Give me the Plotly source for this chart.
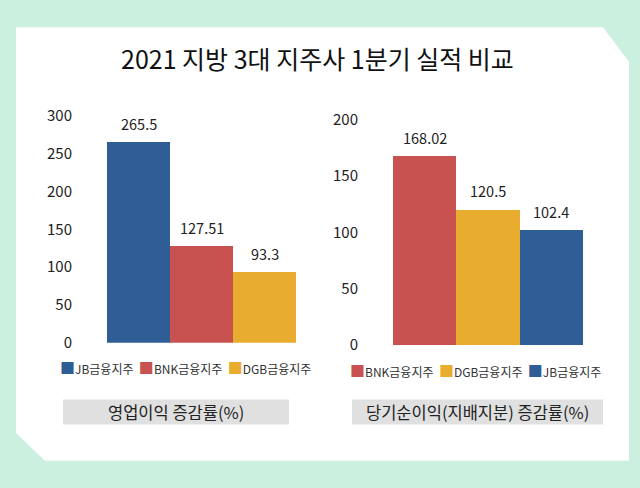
import plotly.graph_objects as go

W, H = 640, 488
FONT = "Noto Sans CJK KR"

title_text = "2021 지방 3대 지주사 1분기 실적 비교"

# Left chart: 영업이익 증감률(%)
left_label = "영업이익 증감률(%)"
left_names = ["JB금융지주", "BNK금융지주", "DGB금융지주"]
left_values = [265.5, 127.51, 93.3]
left_labels = ["265.5", "127.51", "93.3"]

# Right chart: 당기순이익(지배지분) 증감률(%)
right_label = "당기순이익(지배지분) 증감률(%)"
right_names = ["BNK금융지주", "DGB금융지주", "JB금융지주"]
right_values = [168.02, 120.5, 102.4]
right_labels = ["168.02", "120.5", "102.4"]

left_ticks = [0, 50, 100, 150, 200, 250, 300]
right_ticks = [0, 50, 100, 150, 200]

colors = {"JB금융지주": "#2F5E96", "BNK금융지주": "#C8524F", "DGB금융지주": "#E8AC2E"}


def px(x):
    return x / W


def py(y):
    return (H - y) / H


fig = go.Figure()

for name, val in zip(left_names, left_values):
    fig.add_trace(go.Bar(x=[name], y=[val], name=name, marker=dict(color=colors[name], line=dict(width=0)),
                         xaxis="x", yaxis="y", showlegend=False, hoverinfo="skip"))
for name, val in zip(right_names, right_values):
    fig.add_trace(go.Bar(x=[name], y=[val], name=name, marker=dict(color=colors[name], line=dict(width=0)),
                         xaxis="x2", yaxis="y2", showlegend=False, hoverinfo="skip"))

annotations = []
for name, val, lab in zip(left_names, left_values, left_labels):
    annotations.append(dict(x=name, y=val, xref="x", yref="y", text=lab, showarrow=False,
                            yanchor="bottom", yshift=6, font=dict(family=FONT, size=14.5, color="#222")))
for name, val, lab in zip(right_names, right_values, right_labels):
    annotations.append(dict(x=name, y=val, xref="x2", yref="y2", text=lab, showarrow=False,
                            yanchor="bottom", yshift=6, font=dict(family=FONT, size=14.5, color="#222")))

# Title
annotations.append(dict(x=px(317), y=py(48), xref="paper", yref="paper", text=title_text, showarrow=False,
                        xanchor="center", yanchor="middle", font=dict(family=FONT, size=25, color="#111")))


def legend_text(names):
    parts = []
    for n in names:
        parts.append(f"<span style='color:{colors[n]};font-size:15px'>■</span>{n}")
    return "  ".join(parts)


annotations.append(dict(x=px(185), y=py(372), xref="paper", yref="paper", text=legend_text(left_names),
                        showarrow=False, xanchor="center", yanchor="middle",
                        font=dict(family=FONT, size=12, color="#333")))
annotations.append(dict(x=px(475), y=py(375), xref="paper", yref="paper", text=legend_text(right_names),
                        showarrow=False, xanchor="center", yanchor="middle",
                        font=dict(family=FONT, size=12, color="#333")))

annotations.append(dict(x=px(176), y=py(418), xref="paper", yref="paper", text=left_label, showarrow=False,
                        xanchor="center", yanchor="middle", font=dict(family=FONT, size=16.5, color="#222")))
annotations.append(dict(x=px(477.5), y=py(418), xref="paper", yref="paper", text=right_label, showarrow=False,
                        xanchor="center", yanchor="middle", font=dict(family=FONT, size=16.5, color="#222")))

# White panel with cut corners
pts = [(16, 16), (603, 16), (629, 52), (629, 469), (45, 469), (16, 440)]
path = "M " + " L ".join(f"{px(x):.5f},{py(y):.5f}" for x, y in pts) + " Z"
shapes = [
    dict(type="path", path=path, xref="paper", yref="paper", fillcolor="white", line=dict(width=0), layer="below"),
    dict(type="rect", x0=px(63), x1=px(289), y0=py(431), y1=py(405), xref="paper", yref="paper",
         fillcolor="#E0E0E0", line=dict(width=0), layer="below"),
    dict(type="rect", x0=px(352), x1=px(603), y0=py(431), y1=py(405), xref="paper", yref="paper",
         fillcolor="#E0E0E0", line=dict(width=0), layer="below"),
]

axis_common = dict(showgrid=False, zeroline=False, showline=False, ticks="", fixedrange=True)

fig.update_layout(
    width=W, height=H,
    margin=dict(l=0, r=0, t=0, b=0),
    paper_bgcolor="#CCF0E0",
    plot_bgcolor="rgba(0,0,0,0)",
    barmode="overlay",
    bargap=0,
    showlegend=False,
    hovermode=False,
    shapes=shapes,
    annotations=annotations,
    xaxis=dict(domain=[px(107), px(296)], range=[-0.5, 2.5], showticklabels=False, **axis_common),
    yaxis=dict(domain=[py(345.5), py(108.8)], range=[0, 300], tickvals=left_ticks, anchor="x",
               ticklabelstandoff=34, tickfont=dict(family=FONT, size=15, color="#222"), **axis_common),
    xaxis2=dict(domain=[px(393), px(583)], range=[-0.5, 2.5], showticklabels=False, anchor="y2", **axis_common),
    yaxis2=dict(domain=[py(348), py(112.4)], range=[0, 200], tickvals=right_ticks, anchor="x2",
                ticklabelstandoff=34, tickfont=dict(family=FONT, size=15, color="#222"), **axis_common),
)

fig.write_html(
    "out.html",
    config={"displayModeBar": False},
    post_script="document.body.style.margin='0';document.body.style.padding='0';"
                "document.body.style.background='#CCF0E0';",
)
